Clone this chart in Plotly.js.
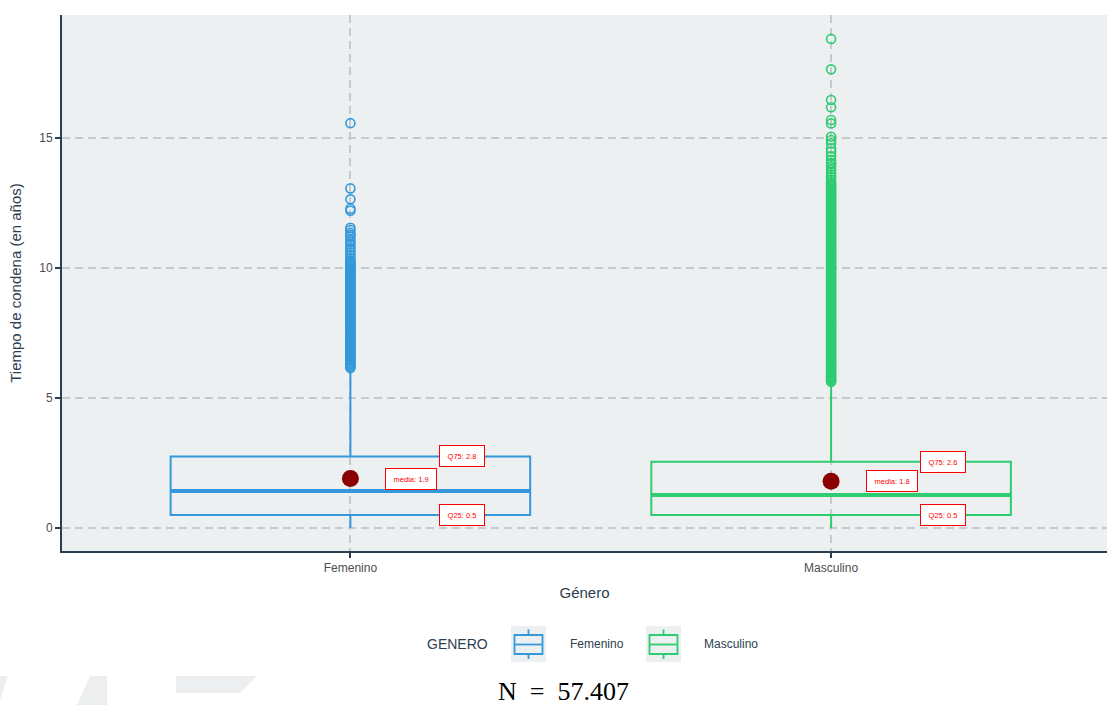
<!DOCTYPE html>
<html><head><meta charset="utf-8">
<script src="https://cdn.plot.ly/plotly-3.0.1.min.js"></script>
<style>body{margin:0;background:#fff}</style>
</head><body><div id="chart" style="width:1107px;height:705px"></div>
<script>
// ---- data ----
const generos = ['Femenino', 'Masculino'];
const q1 = [0.5, 0.5];
const medianas = [1.42, 1.27];
const q3 = [2.75, 2.55];
const bigoteInf = [0, 0];
const bigoteSup = [6.08, 5.62];
const medias = [1.9, 1.8];
const etiquetaQ75 = ['Q75: 2.8', 'Q75: 2.6'];
const etiquetaMedia = ['media: 1.9', 'media: 1.8'];
const etiquetaQ25 = ['Q25: 0.5', 'Q25: 0.5'];
const atipicosFem = [15.57, 13.06, 12.64, 12.28, 12.2, 11.55, 11.46, 11.35, 11.27, 11.2, 11.08, 11.0,
  10.9, 10.8, 10.7, 10.6, 10.5, 10.4, 10.3, 10.25, 10.2, 10.15, 10.1, 10.05, 10.0,
  9.95, 9.9, 9.85, 9.8, 9.75, 9.7, 9.65, 9.6, 9.55, 9.5, 9.45, 9.4, 9.35, 9.3, 9.25, 9.2, 9.15, 9.1, 9.05, 9.0,
  8.95, 8.9, 8.85, 8.8, 8.75, 8.7, 8.65, 8.6, 8.55, 8.5, 8.45, 8.4, 8.35, 8.3, 8.25, 8.2, 8.15, 8.1, 8.05, 8.0,
  7.95, 7.9, 7.85, 7.8, 7.75, 7.7, 7.65, 7.6, 7.55, 7.5, 7.45, 7.4, 7.35, 7.3, 7.25, 7.2, 7.15, 7.1, 7.05, 7.0,
  6.95, 6.9, 6.85, 6.8, 6.75, 6.7, 6.65, 6.6, 6.55, 6.5, 6.45, 6.4, 6.35, 6.3, 6.25, 6.2, 6.15];
const atipicosMasc = [18.81, 17.64, 16.46, 16.18, 15.69, 15.56, 15.05, 14.92, 14.8, 14.6, 14.47, 14.3, 14.15,
  14.05, 14.0, 13.9, 13.8, 13.7, 13.6, 13.5, 13.4, 13.3, 13.25, 13.2, 13.15, 13.1, 13.05, 13.0,
  12.95, 12.9, 12.85, 12.8, 12.75, 12.7, 12.65, 12.6, 12.55, 12.5, 12.45, 12.4, 12.35, 12.3, 12.25, 12.2, 12.15, 12.1, 12.05, 12.0,
  11.95, 11.9, 11.85, 11.8, 11.75, 11.7, 11.65, 11.6, 11.55, 11.5, 11.45, 11.4, 11.35, 11.3, 11.25, 11.2, 11.15, 11.1, 11.05, 11.0,
  10.95, 10.9, 10.85, 10.8, 10.75, 10.7, 10.65, 10.6, 10.55, 10.5, 10.45, 10.4, 10.35, 10.3, 10.25, 10.2, 10.15, 10.1, 10.05, 10.0,
  9.95, 9.9, 9.85, 9.8, 9.75, 9.7, 9.65, 9.6, 9.55, 9.5, 9.45, 9.4, 9.35, 9.3, 9.25, 9.2, 9.15, 9.1, 9.05, 9.0,
  8.95, 8.9, 8.85, 8.8, 8.75, 8.7, 8.65, 8.6, 8.55, 8.5, 8.45, 8.4, 8.35, 8.3, 8.25, 8.2, 8.15, 8.1, 8.05, 8.0,
  7.95, 7.9, 7.85, 7.8, 7.75, 7.7, 7.65, 7.6, 7.55, 7.5, 7.45, 7.4, 7.35, 7.3, 7.25, 7.2, 7.15, 7.1, 7.05, 7.0,
  6.95, 6.9, 6.85, 6.8, 6.75, 6.7, 6.65, 6.6, 6.55, 6.5, 6.45, 6.4, 6.35, 6.3, 6.25, 6.2, 6.15, 6.1, 6.05, 6.0,
  5.95, 5.9, 5.85, 5.8, 5.75, 5.7, 5.65, 5.62];
const atipicos = [atipicosFem, atipicosMasc];
const totalN = 'N\u2002=\u200257.407';
const tituloLeyenda = 'GENERO';
const tituloX = 'Género';
const tituloY = 'Tiempo de condena (en años)';
const ticksY = [0, 5, 10, 15];

// ---- styles ----
const colores = ['#3498DB', '#2ECC71'];
const anchoCaja = 0.748;
const FONT = 'Liberation Sans, Arial, sans-serif';

const traces = [];
generos.forEach((g, i) => {
  traces.push({
    type: 'box', name: g, x: [g], q1: [q1[i]], median: [medianas[i]], q3: [q3[i]],
    lowerfence: [bigoteInf[i]], upperfence: [bigoteSup[i]], boxpoints: false,
    width: anchoCaja, whiskerwidth: 0, line: { color: colores[i], width: 2 },
    fillcolor: 'rgba(0,0,0,0)', showlegend: false, hoverinfo: 'skip'
  });
  traces.push({
    type: 'scatter', mode: 'markers', x: atipicos[i].map(() => g), y: atipicos[i],
    marker: { symbol: 'circle-open', size: 9, color: colores[i], line: { width: 1.6, color: colores[i] } },
    showlegend: false, hoverinfo: 'y'
  });
});
traces.push({
  type: 'scatter', mode: 'markers', x: generos, y: medias,
  marker: { size: 17, color: '#8B0000' }, showlegend: false, hoverinfo: 'y'
});

// pixel -> paper helpers for items placed outside the plot area
const PL = 62, PW = 1045, PT = 15, PH = 536;
const px = v => (v - PL) / PW, py = v => (PT + PH - v) / PH;
const poly = pts => 'M ' + pts.map(p => px(p[0]) + ',' + py(p[1])).join(' L ') + ' Z';

const annotations = [];
const NB = '\u00a0';
generos.forEach((g, i) => {
  const lab = (txt, dx, y) => ({
    x: i + dx, y: y, xref: 'x', yref: 'y', text: NB + txt + NB, showarrow: false,
    font: { size: 7.5, color: '#FF0000', family: FONT },
    bgcolor: '#FFFFFF', bordercolor: '#FF0000', borderwidth: 1, borderpad: 5.5
  });
  annotations.push(lab(etiquetaQ75[i], 0.232, q3[i]));
  annotations.push(lab(etiquetaMedia[i], 0.126, medias[i]));
  annotations.push(lab(etiquetaQ25[i], 0.232, q1[i]));
});
annotations.push({
  xref: 'paper', yref: 'paper', x: px(563), y: py(691), yanchor: 'middle', xanchor: 'center',
  text: totalN, showarrow: false, borderpad: 0,
  font: { size: 26, color: '#000', family: 'Liberation Serif, DejaVu Serif, serif' }
});

const shapes = [];
generos.forEach((g, i) => {
  shapes.push({
    type: 'line', xref: 'x', yref: 'y', x0: i - anchoCaja / 2, x1: i + anchoCaja / 2,
    y0: medianas[i], y1: medianas[i], line: { color: colores[i], width: 4 }, layer: 'above'
  });
});

// custom legend
annotations.push({
  xref: 'paper', yref: 'paper', x: px(425), y: py(644), xanchor: 'left', yanchor: 'middle',
  text: tituloLeyenda, showarrow: false, font: { size: 14, color: '#2C3E50', family: FONT }
});
const keyX = [511, 646], textX = [568, 702];
generos.forEach((g, i) => {
  const k = keyX[i];
  shapes.push({ type: 'rect', xref: 'paper', yref: 'paper', x0: px(k), x1: px(k + 35), y0: py(626), y1: py(662),
    fillcolor: '#ECF0F1', line: { width: 0 } });
  shapes.push({ type: 'rect', xref: 'paper', yref: 'paper', x0: px(k + 3.5), x1: px(k + 31.5), y0: py(635), y1: py(654),
    fillcolor: 'rgba(0,0,0,0)', line: { color: colores[i], width: 1.8 } });
  shapes.push({ type: 'line', xref: 'paper', yref: 'paper', x0: px(k + 3.5), x1: px(k + 31.5), y0: py(644.5), y1: py(644.5),
    line: { color: colores[i], width: 1.8 } });
  shapes.push({ type: 'line', xref: 'paper', yref: 'paper', x0: px(k + 17.5), x1: px(k + 17.5), y0: py(629.5), y1: py(635),
    line: { color: colores[i], width: 1.8 } });
  shapes.push({ type: 'line', xref: 'paper', yref: 'paper', x0: px(k + 17.5), x1: px(k + 17.5), y0: py(654), y1: py(659),
    line: { color: colores[i], width: 1.8 } });
  annotations.push({
    xref: 'paper', yref: 'paper', x: px(textX[i]), y: py(644), xanchor: 'left', yanchor: 'middle',
    text: g, showarrow: false, font: { size: 12, color: '#2C3E50', family: FONT }
  });
});

// decorative watermark fragments
[[[0, 676], [8, 676], [0, 700]],
 [[90, 676], [107, 676], [107, 705], [77, 705]],
 [[176, 676], [257, 676], [240, 693], [176, 693]]].forEach(p => shapes.push({
  type: 'path', xref: 'paper', yref: 'paper', path: poly(p), fillcolor: '#ECEEEF', line: { width: 0 }, layer: 'below'
}));

const ejeComun = {
  showline: true, linecolor: '#2C3E50', linewidth: 2, ticks: 'outside', ticklen: 5,
  tickcolor: '#2C3E50', tickwidth: 2, showgrid: true, gridcolor: '#C6CACD', griddash: '8px,5px',
  gridwidth: 2, zeroline: false, fixedrange: true, tickfont: { size: 12, color: '#4D4D4D' }
};
const layout = {
  width: 1107, height: 705,
  margin: { l: 62, r: 0, t: 15, b: 154 },
  paper_bgcolor: '#FFFFFF', plot_bgcolor: '#ECF0F1',
  font: { family: FONT, color: '#2C3E50' },
  xaxis: Object.assign({}, ejeComun, {
    type: 'category', range: [-0.6, 1.574],
    title: { text: tituloX, font: { size: 15, color: '#2C3E50' }, standoff: 13 }
  }),
  yaxis: Object.assign({}, ejeComun, {
    range: [-0.885, 19.73], tickvals: ticksY,
    title: { text: tituloY, font: { size: 15, color: '#2C3E50' }, standoff: 14 }
  }),
  showlegend: false,
  annotations: annotations, shapes: shapes
};
Plotly.newPlot('chart', traces, layout, { displayModeBar: false, staticPlot: true });
</script></body></html>
